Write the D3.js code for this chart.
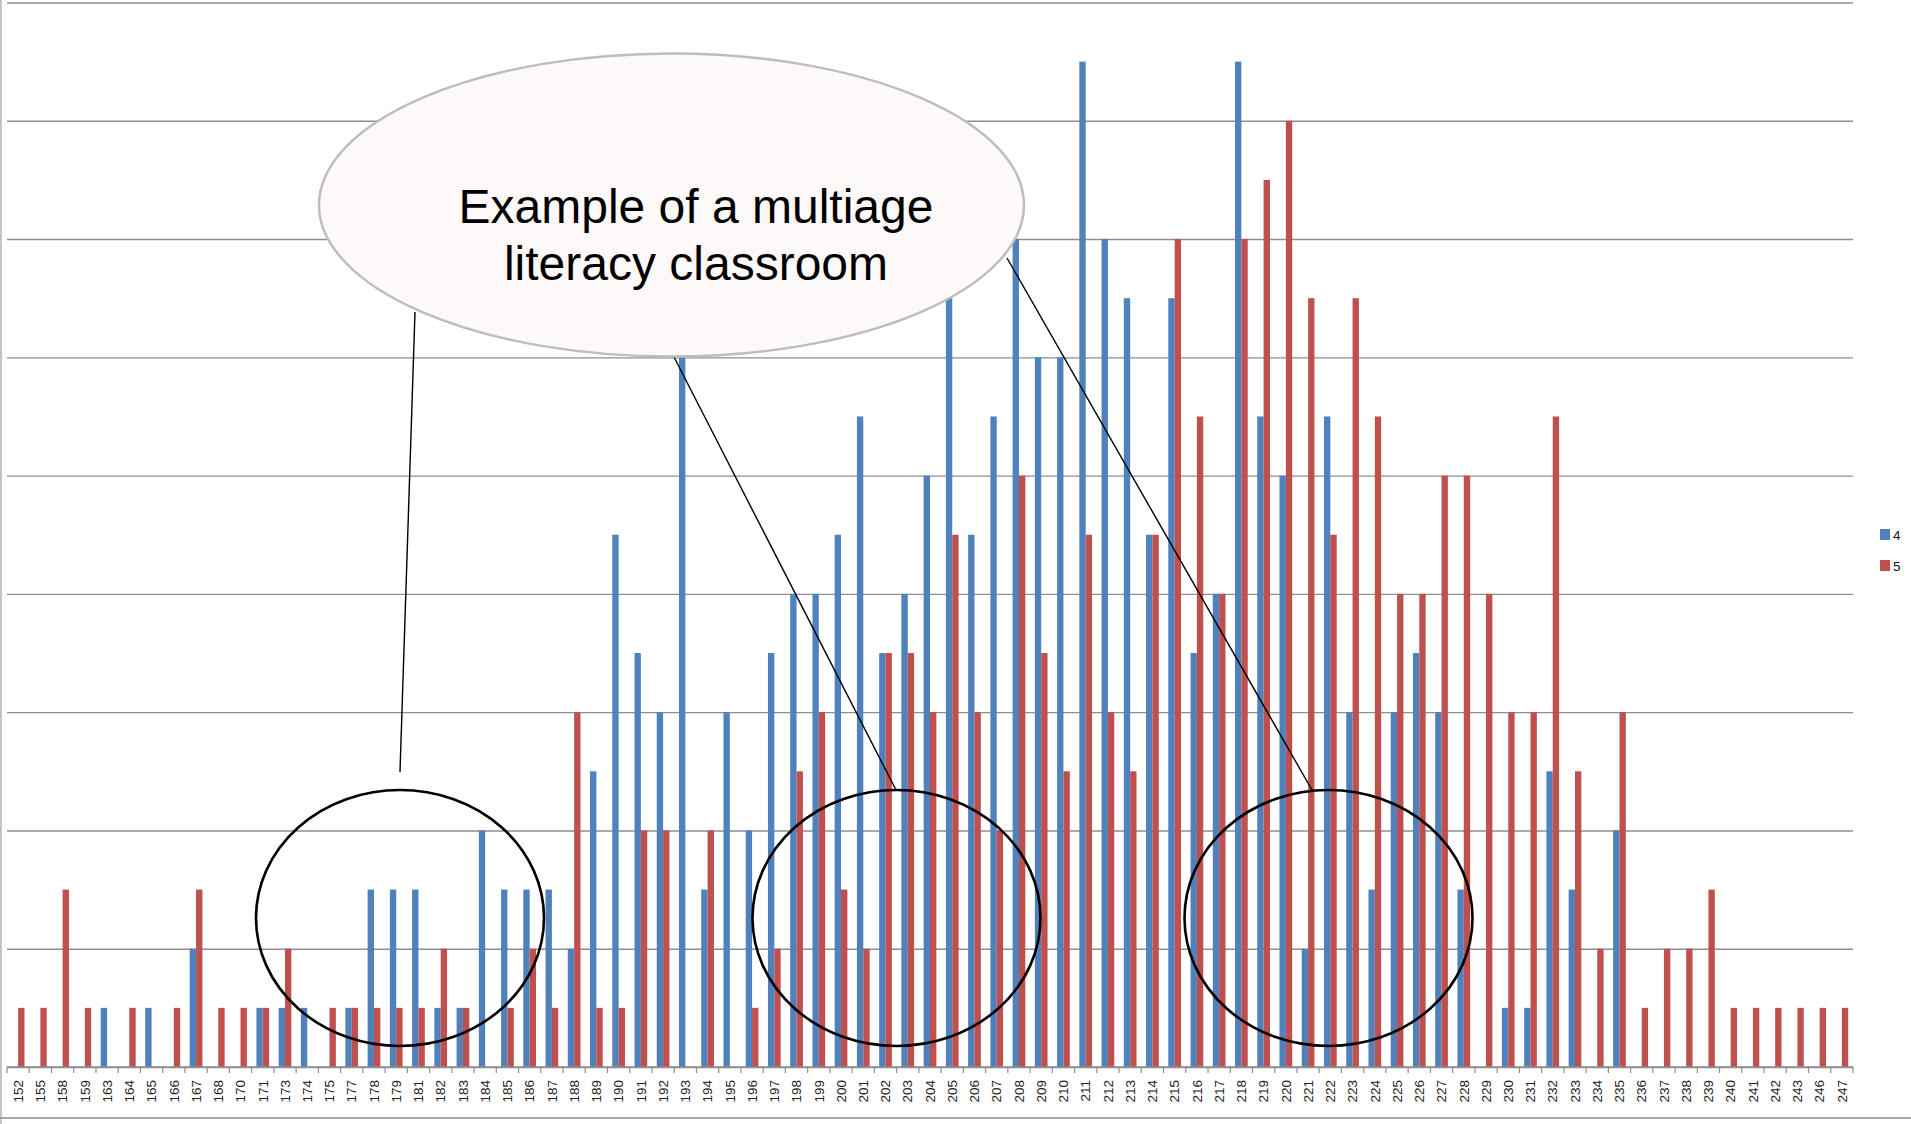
<!DOCTYPE html>
<html>
<head>
<meta charset="utf-8">
<script src="https://cdn.jsdelivr.net/npm/d3@7"></script>
<style>
  html, body { margin: 0; padding: 0; background: #fff; }
  svg { display: block; }
  text { font-family: "Liberation Sans", Arial, sans-serif; }
</style>
</head>
<body>
<svg id="chart" width="1911" height="1124"></svg>
<script>
// ---- data ----
const categories = [152,155,158,159,163,164,165,166,167,168,170,171,173,174,175,177,178,179,181,182,183,
  184,185,186,187,188,189,190,191,192,193,194,195,196,197,198,199,200,201,202,203,204,
  205,206,207,208,209,210,211,212,213,214,215,216,217,218,219,220,221,222,223,224,225,226,
  227,228,229,230,231,232,233,234,235,236,237,238,239,240,241,242,243,246,247];

const series4 = [0,0,0,0,1,0,1,0,2,0,0,1,1,1,0,1,3,3,3,1,1,
  4,3,3,3,2,5,9,7,6,12,3,6,4,7,8,8,9,11,7,8,10,
  13,9,11,14,12,12,17,14,13,9,13,7,8,17,11,10,2,11,6,3,6,7,
  6,3,0,1,1,5,3,0,4,0,0,0,0,0,0,0,0,0,0];

const series5 = [1,1,3,1,0,1,0,1,3,1,1,1,2,0,1,1,1,1,1,2,1,
  0,1,2,1,6,1,1,4,4,0,4,0,1,2,5,6,3,2,7,7,6,
  9,6,4,10,7,5,9,6,5,9,14,11,8,14,15,16,13,9,13,11,8,8,
  10,10,8,6,6,11,5,2,6,1,2,2,3,1,1,1,1,1,1];

const seriesNames = ["4", "5"];
const seriesColors = ["#4F81BD", "#C0504D"];
const yTicks = [0,2,4,6,8,10,12,14,16,18];
const calloutLines = ["Example of a multiage", "literacy classroom"];

// ---- layout ----
const svg = d3.select("#chart");
const plot = { left: 7, right: 1853, top: 2.5, bottom: 1067 };

const x = d3.scaleBand().domain(categories).range([plot.left, plot.right]).paddingInner(0).paddingOuter(0);
const xs = d3.scaleBand().domain(seriesNames).range([0, x.bandwidth()]).paddingInner(0).paddingOuter(0.75);
const y = d3.scaleLinear().domain([0, 18]).range([plot.bottom, plot.top]);

// outer borders (chart area fragment)
svg.append("line").attr("x1", 1).attr("x2", 1).attr("y1", 0).attr("y2", 1124)
  .attr("stroke", "#c4c4c4").attr("stroke-width", 2);
svg.append("line").attr("x1", 0).attr("x2", 1911).attr("y1", 1118).attr("y2", 1118)
  .attr("stroke", "#a6a6a6").attr("stroke-width", 2);

// gridlines
const grid = svg.append("g").attr("transform", `translate(${plot.left},0)`)
  .call(d3.axisLeft(y).tickValues(yTicks).tickSize(-(plot.right - plot.left)).tickFormat(""));
grid.select(".domain").remove();
grid.selectAll(".tick line").attr("stroke", "#8e8e8e").attr("stroke-width", 1.4);

// bars
const data = categories.map((c, i) => ({ cat: c, values: [series4[i], series5[i]] }));
const groups = svg.append("g").selectAll("g").data(data).join("g")
  .attr("transform", d => `translate(${x(d.cat)},0)`);
groups.selectAll("rect").data(d => d.values.map((v, k) => ({ key: seriesNames[k], v, k })))
  .join("rect")
  .attr("x", d => xs(d.key))
  .attr("width", xs.bandwidth())
  .attr("y", d => y(d.v))
  .attr("height", d => y(0) - y(d.v))
  .attr("fill", d => seriesColors[d.k]);

// x axis
const axisG = svg.append("g").attr("transform", `translate(0,${plot.bottom})`);
axisG.append("line").attr("x1", plot.left).attr("x2", plot.right).attr("y1", 0).attr("y2", 0)
  .attr("stroke", "#8e8e8e").attr("stroke-width", 1.4);
const tickPos = categories.map(c => x(c)).concat([plot.right]);
axisG.selectAll("line.tk").data(tickPos).join("line").attr("class", "tk")
  .attr("x1", d => d).attr("x2", d => d).attr("y1", 0).attr("y2", 6)
  .attr("stroke", "#8e8e8e").attr("stroke-width", 1.2);
axisG.selectAll("text").data(categories).join("text")
  .attr("transform", d => `translate(${x(d) + x.bandwidth() / 2},13) rotate(-90)`)
  .attr("text-anchor", "end")
  .attr("dy", "0.35em")
  .attr("font-size", 13.5)
  .attr("fill", "#222")
  .text(d => d);

// legend
const legend = svg.append("g").attr("transform", "translate(1880,529)");
seriesNames.forEach((s, i) => {
  const g = legend.append("g").attr("transform", `translate(0,${i * 31})`);
  g.append("rect").attr("width", 10).attr("height", 11).attr("fill", seriesColors[i]);
  g.append("text").attr("x", 13).attr("y", 10.5).attr("font-size", 13.5).attr("fill", "#111").text(s);
});

// callout connector lines
const connectors = [
  [[415, 312], [400, 772]],
  [[674, 357], [896, 790]],
  [[1007, 258], [1312, 790]]
];
svg.append("g").selectAll("line").data(connectors).join("line")
  .attr("x1", d => d[0][0]).attr("y1", d => d[0][1])
  .attr("x2", d => d[1][0]).attr("y2", d => d[1][1])
  .attr("stroke", "#000").attr("stroke-width", 1.4);

// callout ellipse
svg.append("ellipse").attr("cx", 671.5).attr("cy", 205).attr("rx", 352.5).attr("ry", 151.5)
  .attr("fill", "#FDF9F8").attr("stroke", "#BDBDBD").attr("stroke-width", 2.5);
svg.append("g").selectAll("text").data(calloutLines).join("text")
  .attr("x", 696).attr("y", (d, i) => 223 + i * 57)
  .attr("text-anchor", "middle").attr("font-size", 48).attr("fill", "#000")
  .text(d => d);

// highlight circles
const circles = [[400, 918], [896.5, 918], [1328.5, 918]];
svg.append("g").selectAll("ellipse").data(circles).join("ellipse")
  .attr("cx", d => d[0]).attr("cy", d => d[1]).attr("rx", 144).attr("ry", 128)
  .attr("fill", "none").attr("stroke", "#000").attr("stroke-width", 2.6);
</script>
</body>
</html>
